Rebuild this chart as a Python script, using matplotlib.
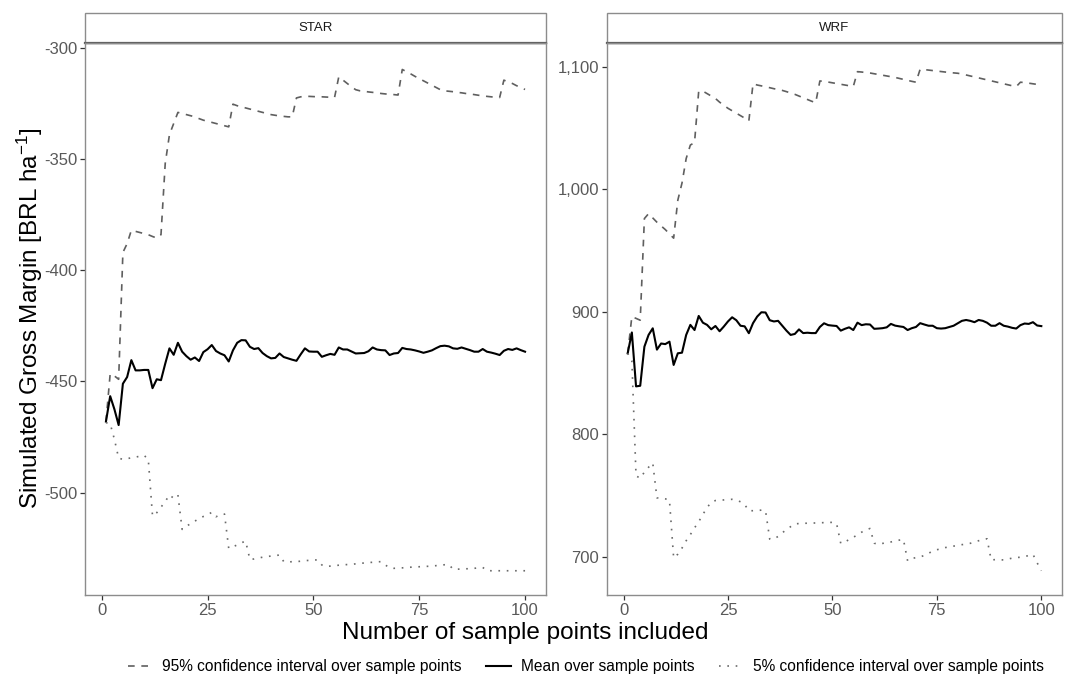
"""
plot.py
-------
Simulated gross margin vs. number of sample points (STAR / WRF panels).
"""

import numpy as np
import matplotlib
matplotlib.use("Agg")
import matplotlib.pyplot as plt
from matplotlib.lines import Line2D
from matplotlib.patches import Rectangle

plt.rcParams["font.family"] = ["Liberation Sans", "DejaVu Sans"]
plt.rcParams["mathtext.default"] = "regular"

# ---------------------------------------------------------------------------
# Data
# ---------------------------------------------------------------------------
sample_points = np.arange(1, 101)
panel_names = ["STAR", "WRF"]

star_upper = [
    -468, -446.5, -447.5, -449, -392, -388, -382, -382.5, -383, -383.5,
    -384, -384.8, -385.5, -384, -352, -339, -334, -329, -329.5, -330,
    -330.5, -331, -331.8, -332.5, -333, -333.5, -334, -334.5, -335, -335.5,
    -325.3, -326, -326.5, -327, -327.5, -328, -328.5, -329, -329.5, -330,
    -330.3, -330.6, -330.8, -331, -331, -322.5, -322, -321.8, -321.8, -321.9,
    -322, -322, -322.1, -322.2, -322.3, -313, -314.5, -316, -317.5, -318.8,
    -319.3, -319.5, -319.8, -320, -320.2, -320.5, -320.7, -320.9, -321, -321.2,
    -309.7, -310.7, -311.7, -312.8, -313.8, -314.8, -315.8, -316.8, -317.8, -318.8,
    -319.3, -319.5, -319.7, -320, -320.2, -320.5, -320.7, -321, -321.3, -321.5,
    -321.8, -322, -322.2, -322.3, -314.5, -315.3, -316, -317, -317.8, -318.7,
]
star_mean = [
    -468, -456.6, -462.5, -469.6, -451, -448, -440.4, -445, -445, -444.8,
    -444.8, -453, -449, -449.4, -442, -435.1, -438, -432.6, -436.6, -438.6,
    -440.2, -439.2, -440.8, -436.8, -435.5, -433.6, -436.3, -437.4, -438.2, -441,
    -436, -432.6, -431.4, -431.5, -434.4, -435.4, -435, -437.2, -438.6, -439.6,
    -439.4, -437.4, -439, -439.6, -440.2, -440.7, -437.8, -435.1, -436.5, -436.6,
    -436.6, -438.9, -438.2, -437.6, -438, -434.7, -435.6, -435.6, -436.5, -437.4,
    -437.3, -437.2, -436.4, -434.7, -435.6, -435.9, -436, -438.1, -437.4, -437.2,
    -434.9, -435.4, -435.6, -436, -436.5, -437.1, -436.6, -436, -435, -434.1,
    -433.9, -434.2, -435.1, -435.3, -434.7, -435.3, -435.9, -436.6, -436.6, -435.4,
    -436.6, -437, -437.5, -438.1, -436.2, -435.4, -435.8, -435.1, -435.9, -436.6,
]
star_lower = [
    -468.5, -469, -476, -484.5, -485, -484.7, -484.3, -484, -483.6, -483.2,
    -485, -510.5, -509, -506.5, -504, -501, -502.5, -501, -516.5, -515,
    -514, -512.8, -511.6, -510.7, -510, -508.8, -510.8, -510, -509.6, -525,
    -524.3, -523.5, -522.5, -521.8, -530, -529.8, -529.4, -529, -528.7, -528.5,
    -528.3, -528, -531, -531.2, -531, -531, -530.8, -530.6, -530.4, -530.3,
    -530.2, -532.5, -533.2, -533, -532.8, -532.6, -532.5, -532.3, -532.2, -532,
    -531.8, -531.6, -531.4, -531.3, -531.1, -531, -532.5, -533.8, -534, -533.9,
    -533.8, -533.6, -533.5, -533.4, -533.3, -533.2, -533.1, -533, -532.8, -532.6,
    -532.4, -532.3, -534.4, -534.4, -534.3, -534.2, -534.2, -534, -533.8, -533.6,
    -535, -535.1, -535.1, -535.1, -535.1, -535.1, -535.1, -535.1, -535.1, -535.1,
]

wrf_upper = [
    866, 896, 894.5, 893, 976, 980, 976.5, 973, 970, 967,
    963.5, 960, 991, 1005, 1025, 1036, 1038, 1080, 1080, 1078,
    1076, 1074, 1071, 1068.5, 1066, 1064, 1062, 1060, 1058, 1055.7,
    1086, 1085, 1084.3, 1083.6, 1082.8, 1082, 1081.3, 1080.6, 1079.6, 1078.5,
    1077.4, 1076, 1074.6, 1073.2, 1071.8, 1070.6, 1088.3, 1088, 1087.4, 1086.8,
    1086.2, 1085.6, 1085, 1084.4, 1083.8, 1095.9, 1095.6, 1095.2, 1094.8, 1094.2,
    1093.6, 1093, 1092.4, 1091.8, 1091.2, 1090.4, 1089.6, 1088.8, 1088, 1087.3,
    1097.9, 1097.6, 1097.2, 1096.8, 1096.4, 1096, 1095.6, 1095.2, 1094.9, 1094.6,
    1094, 1093.2, 1092.4, 1091.6, 1090.8, 1090, 1089.2, 1088.4, 1087.6, 1086.8,
    1086, 1085.2, 1084.4, 1083.7, 1087.3, 1087, 1086.5, 1086, 1085.5, 1085,
]
wrf_mean = [
    866, 883, 839, 839.5, 871.4, 881, 886.4, 869, 874, 873.5,
    875.5, 856.5, 866, 866.5, 881, 889.2, 885, 896.5, 891, 889.2,
    885.6, 888.3, 884, 887.8, 892, 895.4, 893, 888.5, 888, 882.4,
    890.6, 896, 899.5, 899.3, 893, 892, 892.5, 888.5, 884.5, 881,
    881.8, 885.5, 882.5, 882.8, 882.5, 882.5, 887.5, 890.5, 889, 888.6,
    888.3, 884.5, 886, 887.2, 885, 891, 889, 889.7, 889.5, 886,
    886.2, 886.5, 887.2, 890, 888.6, 888, 887.5, 885, 886.5, 887.5,
    890.6, 889.5, 888.5, 888.5, 886.5, 886.2, 886.5, 887.5, 888.5, 890.5,
    892.5, 893.2, 892.5, 891.4, 893.2, 892.5, 891, 888.5, 888.5, 890.6,
    888.5, 887.8, 886.8, 886.2, 889, 890.3, 890, 891.4, 888.7, 888.2,
]
wrf_lower = [
    866, 860, 766, 764, 769, 773, 776.5, 748, 747.8, 747.2,
    746.1, 699, 702, 707, 713, 718, 723.5, 728.5, 734.5, 740,
    744.5, 745.8, 746, 746.3, 746.6, 746.8, 746.2, 744.8, 742.5, 737.5,
    737.5, 737.6, 738, 737.4, 714.3, 714.5, 716.5, 719.5, 722, 724.5,
    726.8, 727, 727.2, 727.3, 727.4, 727.5, 727.6, 727.8, 727.9, 728,
    727, 710.8, 712, 714, 715.8, 717.8, 720, 721.8, 723, 711,
    710, 710.8, 711.5, 712, 712.8, 713.5, 714, 696.6, 698.5, 699.2,
    699.8, 701, 702.8, 704.4, 705.6, 706.6, 707.4, 708, 708.6, 709.2,
    709.8, 710.2, 710.9, 712, 713, 714, 714.6, 697.3, 697.6, 697.5,
    697.3, 698, 698.8, 699.3, 699.5, 700, 701, 701.9, 695, 688.5,
]

x_ticks = [0, 25, 50, 75, 100]
star_y_ticks = [-500, -450, -400, -350, -300]
star_y_labels = ["-500", "-450", "-400", "-350", "-300"]
wrf_y_ticks = [700, 800, 900, 1000, 1100]
wrf_y_labels = ["700", "800", "900", "1,000", "1,100"]

series_labels = [
    "95% confidence interval over sample points",
    "Mean over sample points",
    "5% confidence interval over sample points",
]

# ---------------------------------------------------------------------------
# Styles
# ---------------------------------------------------------------------------
UPPER_STYLE = dict(color="#5f5f5f", linewidth=1.2, linestyle=(0, (4, 4)))
MEAN_STYLE = dict(color="black", linewidth=1.5, linestyle="-")
LOWER_STYLE = dict(color="#6a6a6a", linewidth=1.2, linestyle=(0, (1, 4)))
BORDER = "#8c8c8c"

W, H = 1065, 697


def draw_panel(ax, name, upper, mean, lower, yticks, ylabels, ylim):
    """Draws one facet: three lines, border, strip on top."""
    ax.plot(sample_points, upper, **UPPER_STYLE)
    ax.plot(sample_points, mean, **MEAN_STYLE)
    ax.plot(sample_points, lower, **LOWER_STYLE)

    ax.set_xlim(-3.95, 104.95)
    ax.set_ylim(*ylim)
    ax.set_xticks(x_ticks)
    ax.set_xticklabels([str(t) for t in x_ticks])
    ax.set_yticks(yticks)
    ax.set_yticklabels(ylabels)
    ax.tick_params(direction="out", length=3.5, width=0.9, color="#333333",
                   labelcolor="#595959", labelsize=12, pad=2)
    for spine in ax.spines.values():
        spine.set_color(BORDER)
        spine.set_linewidth(1.0)

    # strip (facet label)
    strip_h = 30 / 552
    ax.add_patch(Rectangle((0, 1), 1, strip_h, transform=ax.transAxes,
                           facecolor="white", edgecolor=BORDER, linewidth=1.0,
                           clip_on=False))
    ax.plot([0, 1], [1, 1], transform=ax.transAxes, color="#5a5a5a",
            linewidth=1.6, clip_on=False)
    ax.text(0.5, 1 + strip_h / 2, name, transform=ax.transAxes,
            ha="center", va="center", fontsize=9.5, color="#1a1a1a")


fig = plt.figure(figsize=(W / 100, H / 100), dpi=100)
fig.patch.set_facecolor("white")

ax_star = fig.add_axes([85 / W, 102 / H, 461 / W, 552 / H])
ax_wrf = fig.add_axes([607 / W, 102 / H, 455 / W, 552 / H])

draw_panel(ax_star, panel_names[0], star_upper, star_mean, star_lower,
           star_y_ticks, star_y_labels, (-546.0, -297.8))
draw_panel(ax_wrf, panel_names[1], wrf_upper, wrf_mean, wrf_lower,
           wrf_y_ticks, wrf_y_labels, (668.7, 1119.3))

fig.text(525 / W, 1 - 633 / H, "Number of sample points included",
         ha="center", va="center", fontsize=17.5, color="black")
fig.text(30 / W, 1 - 318 / H, "Simulated Gross Margin [BRL ha$^{-1}$]",
         ha="center", va="center", rotation=90, fontsize=17.5, color="black")

handles = [
    Line2D([], [], **UPPER_STYLE),
    Line2D([], [], **MEAN_STYLE),
    Line2D([], [], **LOWER_STYLE),
]
fig.legend(handles, series_labels, loc="center", ncol=3,
           bbox_to_anchor=(586 / W, 1 - 667 / H), frameon=False,
           fontsize=11.2, handlelength=1.6, columnspacing=1.6,
           handletextpad=0.6)

fig.savefig("out.png", dpi=100)
plt.close(fig)
